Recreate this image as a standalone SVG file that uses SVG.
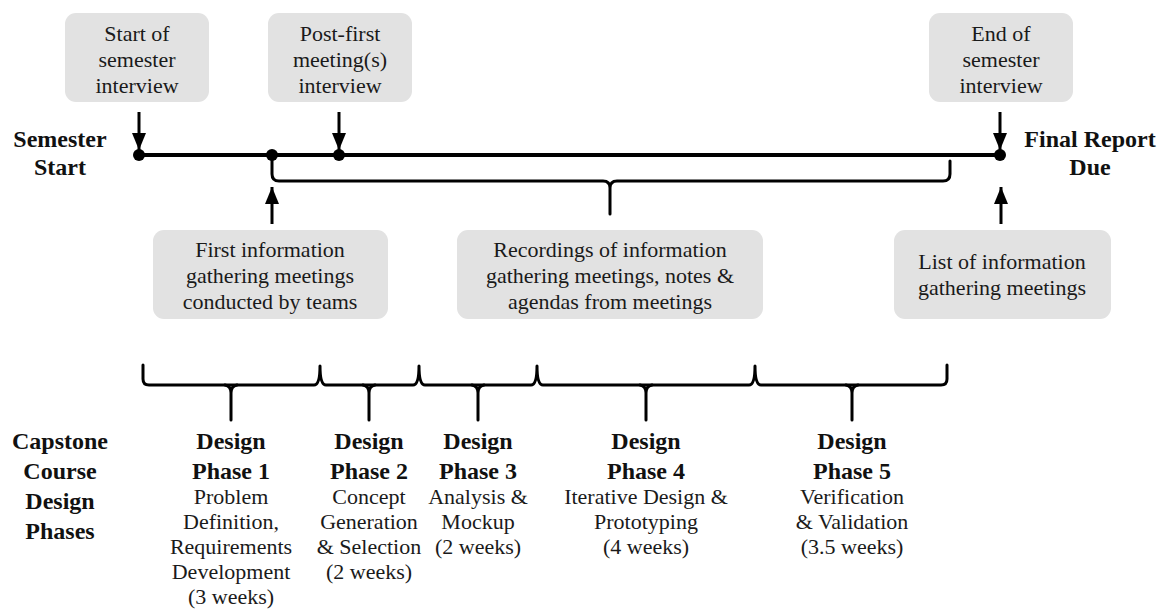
<svg xmlns="http://www.w3.org/2000/svg" width="1165" height="611" viewBox="0 0 1165 611">
<defs>
<style>
.box{fill:#e2e2e2;}
text{font-family:'Liberation Serif','Times New Roman',serif;}
.t{font-size:22px;fill:#1a1a1a;text-anchor:middle;}
.b{font-size:24px;font-weight:bold;fill:#111;text-anchor:middle;}
.ln{fill:none;stroke:#000;stroke-width:3;stroke-linecap:round;stroke-linejoin:round;}
.tl{fill:none;stroke:#000;stroke-width:4;}
.ar{stroke:#000;stroke-width:3;marker-end:url(#ah);}
</style>
<marker id="ah" markerUnits="userSpaceOnUse" markerWidth="18" markerHeight="16" viewBox="0 0 18 16" refX="17" refY="8" orient="auto">
<path d="M0,1 L17,8 L0,15 Z" fill="#000"/>
</marker>
</defs>

<g id="connectors">
<line class="tl" x1="139" y1="155" x2="1000" y2="155"/>
<path class="ln" d="M272,155 L272,174 Q272,181 279,181 L603,181 Q610,181 610,188 L610,214 M610,188 Q610,181 617,181 L943,181 Q950,181 950,174 L950,161"/>
<path class="ln" d="M143,365 L143,379 Q143,385 149,385 L314,385 Q320,385 320,366 Q320,385 326,385 L413,385 Q419,385 419,366 Q419,385 425,385 L531,385 Q537,385 537,366 Q537,385 543,385 L749,385 Q755,385 755,366 Q755,385 761,385 L941,385 Q947,385 947,379 L947,365"/>
<path class="ln" d="M225,385 Q231,386 231,393 L231,420 M231,393 Q231,386 237,385"/>
<path class="ln" d="M363,385 Q369,386 369,393 L369,420 M369,393 Q369,386 375,385"/>
<path class="ln" d="M472,385 Q478,386 478,393 L478,420 M478,393 Q478,386 484,385"/>
<path class="ln" d="M640,385 Q646,386 646,393 L646,420 M646,393 Q646,386 652,385"/>
<path class="ln" d="M846,385 Q852,386 852,393 L852,420 M852,393 Q852,386 858,385"/>
<line class="ar" x1="139" y1="112" x2="139" y2="150"/>
<line class="ar" x1="339" y1="112" x2="339" y2="150"/>
<line class="ar" x1="1000" y1="112" x2="1000" y2="150"/>
<line class="ar" x1="272" y1="224" x2="272" y2="187"/>
<line class="ar" x1="1001" y1="224" x2="1001" y2="187"/>
<circle cx="139" cy="155" r="6"/>
<circle cx="272" cy="155" r="6"/>
<circle cx="339" cy="155" r="6"/>
<circle cx="1000" cy="155" r="6"/>
</g>

<g id="start-interview">
<rect class="box" x="65" y="13" width="144" height="89" rx="11"/>
<text class="t" x="137" y="41">Start of</text>
<text class="t" x="137" y="67">semester</text>
<text class="t" x="137" y="93">interview</text>
</g>
<g id="post-first-interview">
<rect class="box" x="268" y="13" width="144" height="89" rx="11"/>
<text class="t" x="340" y="41">Post-first</text>
<text class="t" x="340" y="67">meeting(s)</text>
<text class="t" x="340" y="93">interview</text>
</g>
<g id="end-interview">
<rect class="box" x="929" y="13" width="144" height="89" rx="11"/>
<text class="t" x="1001" y="41">End of</text>
<text class="t" x="1001" y="67">semester</text>
<text class="t" x="1001" y="93">interview</text>
</g>

<g id="semester-start">
<text class="b" x="60" y="147">Semester</text>
<text class="b" x="60" y="175">Start</text>
</g>
<g id="final-report">
<text class="b" x="1090" y="147">Final Report</text>
<text class="b" x="1090" y="175">Due</text>
</g>

<g id="first-meetings">
<rect class="box" x="153" y="230" width="235" height="89" rx="11"/>
<text class="t" x="270" y="257">First information</text>
<text class="t" x="270" y="283">gathering meetings</text>
<text class="t" x="270" y="309">conducted by teams</text>
</g>
<g id="recordings">
<rect class="box" x="457" y="230" width="306" height="89" rx="11"/>
<text class="t" x="610" y="257">Recordings of information</text>
<text class="t" x="610" y="283">gathering meetings, notes &amp;</text>
<text class="t" x="610" y="309">agendas from meetings</text>
</g>
<g id="list-meetings">
<rect class="box" x="894" y="230" width="217" height="89" rx="11"/>
<text class="t" x="1002" y="269">List of information</text>
<text class="t" x="1002" y="295">gathering meetings</text>
</g>

<g id="capstone">
<text class="b" x="60" y="449">Capstone</text>
<text class="b" x="60" y="479">Course</text>
<text class="b" x="60" y="509">Design</text>
<text class="b" x="60" y="539">Phases</text>
</g>

<g id="phase1">
<text class="b" x="231" y="449">Design</text>
<text class="b" x="231" y="479">Phase 1</text>
<text class="t" x="231" y="504">Problem</text>
<text class="t" x="231" y="529">Definition,</text>
<text class="t" x="231" y="554">Requirements</text>
<text class="t" x="231" y="579">Development</text>
<text class="t" x="231" y="604">(3 weeks)</text>
</g>
<g id="phase2">
<text class="b" x="369" y="449">Design</text>
<text class="b" x="369" y="479">Phase 2</text>
<text class="t" x="369" y="504">Concept</text>
<text class="t" x="369" y="529">Generation</text>
<text class="t" x="369" y="554">&amp; Selection</text>
<text class="t" x="369" y="579">(2 weeks)</text>
</g>
<g id="phase3">
<text class="b" x="478" y="449">Design</text>
<text class="b" x="478" y="479">Phase 3</text>
<text class="t" x="478" y="504">Analysis &amp;</text>
<text class="t" x="478" y="529">Mockup</text>
<text class="t" x="478" y="554">(2 weeks)</text>
</g>
<g id="phase4">
<text class="b" x="646" y="449">Design</text>
<text class="b" x="646" y="479">Phase 4</text>
<text class="t" x="646" y="504">Iterative Design &amp;</text>
<text class="t" x="646" y="529">Prototyping</text>
<text class="t" x="646" y="554">(4 weeks)</text>
</g>
<g id="phase5">
<text class="b" x="852" y="449">Design</text>
<text class="b" x="852" y="479">Phase 5</text>
<text class="t" x="852" y="504">Verification</text>
<text class="t" x="852" y="529">&amp; Validation</text>
<text class="t" x="852" y="554">(3.5 weeks)</text>
</g>
</svg>
